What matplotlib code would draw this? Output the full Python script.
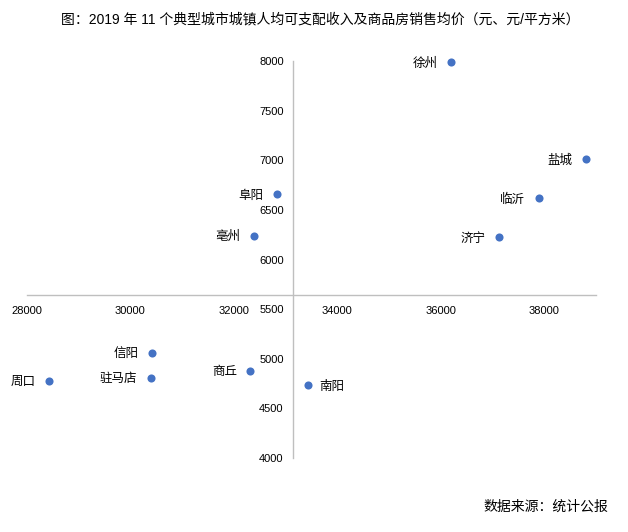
import matplotlib
matplotlib.use("Agg")
import matplotlib.pyplot as plt

plt.rcParams['font.family'] = ['Liberation Sans', 'Noto Sans CJK SC', 'DejaVu Sans']

# 城镇人均可支配收入（元）, 商品房销售均价（元/平方米）
cities = ['徐州', '盐城', '临沂', '济宁', '阜阳', '亳州', '周口', '信阳', '驻马店', '商丘', '南阳']
income = [36200, 38810, 37900, 37120, 32830, 32390, 28430, 30410, 30390, 32320, 33430]
price = [7990, 7010, 6620, 6225, 6658, 6241, 4777, 5059, 4811, 4878, 4734]
label_side = ['left'] * 10 + ['right']

x_ticks = [28000, 30000, 32000, 34000, 36000, 38000]
y_ticks = [4000, 4500, 5000, 5500, 6000, 6500, 7000, 7500, 8000]
x_cross = 33140
y_cross = 5640

fig = plt.figure(figsize=(6.28, 5.32), dpi=100)
ax = fig.add_axes([0.043, 0.139, 0.9056, 0.7464])

ax.scatter(income, price, s=34, color='#4472C4', zorder=3, linewidths=0, clip_on=False)

for name, xv, yv, side in zip(cities, income, price, label_side):
    if side == 'left':
        ax.annotate(name, (xv, yv), xytext=(-9.7, -1), textcoords='offset points',
                    ha='right', va='center', fontsize=9)
    else:
        ax.annotate(name, (xv, yv), xytext=(8.5, -1), textcoords='offset points',
                    ha='left', va='center', fontsize=9)

ax.set_xlim(28000, 39000)
ax.set_ylim(4000, 8000)
ax.set_xticks(x_ticks)
ax.set_yticks(y_ticks)
ax.set_xticklabels([str(v) for v in x_ticks])
ax.set_yticklabels([str(v) for v in y_ticks])

ax.spines['left'].set_position(('data', x_cross))
ax.spines['bottom'].set_position(('data', y_cross))
ax.spines['right'].set_visible(False)
ax.spines['top'].set_visible(False)
for s in ['left', 'bottom']:
    ax.spines[s].set_color('#BFBFBF')
    ax.spines[s].set_linewidth(1.0)

ax.tick_params(axis='both', length=0, labelsize=8, colors='black')
ax.tick_params(axis='x', pad=8)
ax.tick_params(axis='y', pad=6.5)

fig.text(0.51, 0.964, '图：2019 年 11 个典型城市城镇人均可支配收入及商品房销售均价（元、元/平方米）',
         ha='center', va='center', fontsize=10)
fig.text(0.968, 0.047, '数据来源：统计公报', ha='right', va='center', fontsize=10)

fig.savefig('out.png', dpi=100)
